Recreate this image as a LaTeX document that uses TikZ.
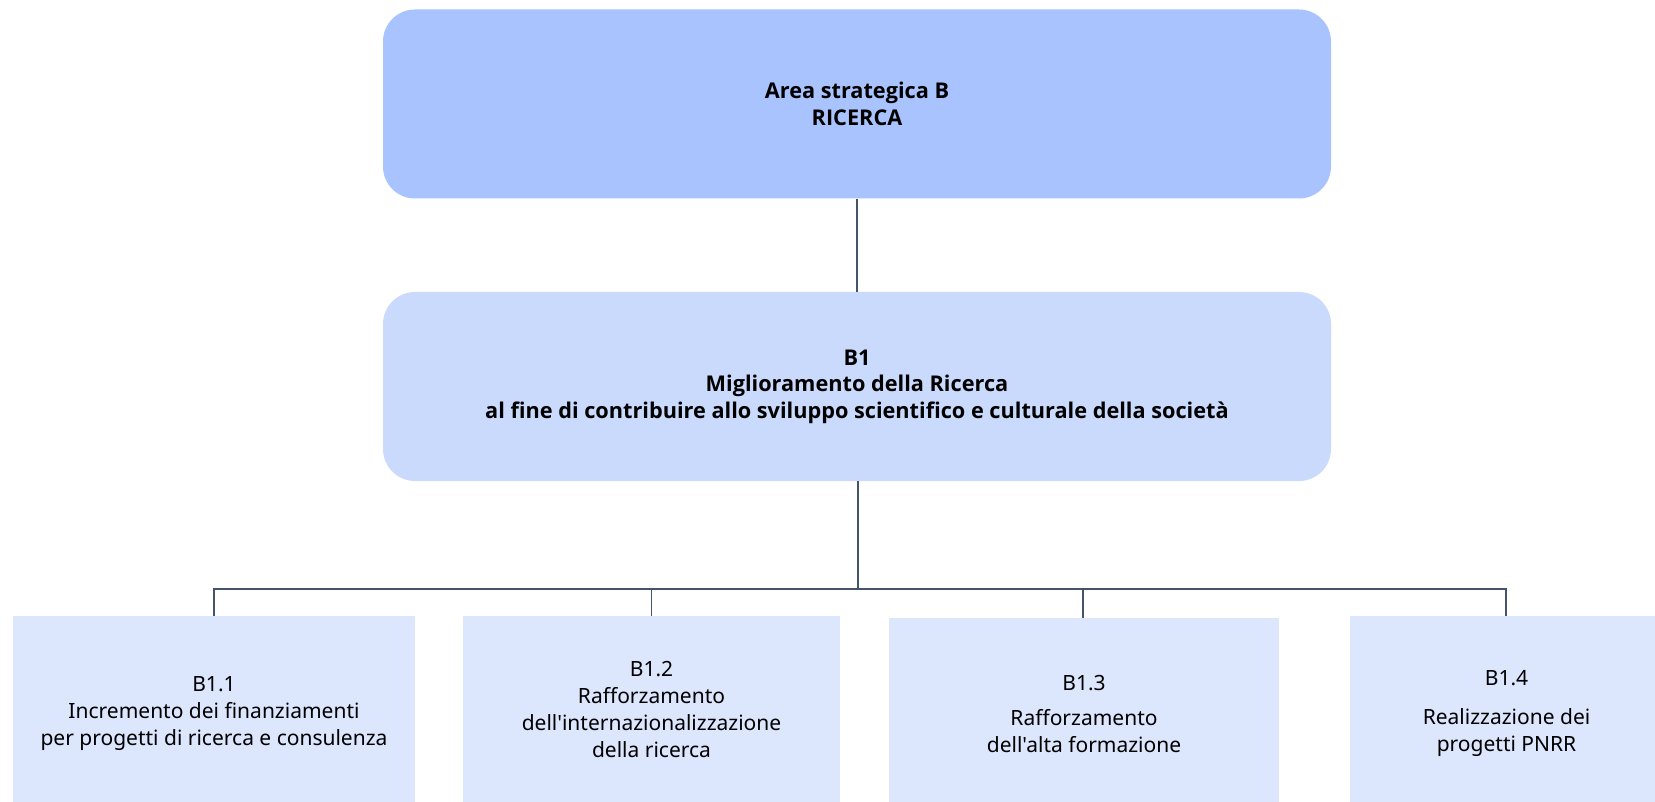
\documentclass[tikz,border=0pt]{standalone}
\usepackage{fontspec}
\newfontfamily\nsans{Noto Sans}
\newfontfamily\osans{Open Sans}
\definecolor{topfill}{HTML}{A8C3FE}
\definecolor{midfill}{HTML}{C9DAFD}
\definecolor{botfill}{HTML}{DCE6FD}
\definecolor{linec}{HTML}{44546A}
\tikzset{
  bigbox/.style={rectangle, rounded corners=32pt, draw=none, inner sep=0pt, align=center,
    minimum width=948pt, minimum height=189pt,
    font=\osans\bfseries\fontsize{21.7}{26.5}\selectfont},
  subbox/.style={rectangle, draw=none, fill=botfill, inner sep=0pt, align=center,
    font=\nsans\fontsize{21}{27}\selectfont},
  conn/.style={draw=linec, line width=1.3pt}
}
\begin{document}
\begin{tikzpicture}[x=1pt,y=-1pt]
\useasboundingbox (0,0) rectangle (1655,802);
\node[bigbox, fill=topfill] (top) at (857,104) {Area strategica B\\RICERCA};
\node[bigbox, fill=midfill] (mid) at (857,386.5) {\raisebox{-2pt}{\begin{tabular}{@{}c@{}}B1\\Miglioramento della Ricerca\\al fine di contribuire allo sviluppo scientifico e culturale della società\end{tabular}}};
\node[subbox, minimum width=402pt, minimum height=196pt] (b11) at (214,714) {B1.1\\Incremento dei finanziamenti\\per progetti di ricerca e consulenza};
\node[subbox, minimum width=377pt, minimum height=186pt] (b12) at (651.5,709) {B1.2\\Rafforzamento\\dell'internazionalizzazione\\della ricerca};
\node[subbox, minimum width=390pt, minimum height=192pt] (b13) at (1084,714) {B1.3\\[8pt]Rafforzamento\\dell'alta formazione};
\node[subbox, minimum width=305pt, minimum height=194pt] (b14) at (1502.5,713) {\hspace*{8pt}B1.4\\[12pt]\hspace*{8pt}Realizzazione dei\\\hspace*{8pt}progetti PNRR};
\coordinate (bus) at (858,589);
\draw[conn] (top) -- (mid);
\draw[conn] (mid.south -| bus) -- (bus);
\draw[conn] (bus) -| (b11.north);
\draw[conn] (bus) -| (b12.north);
\draw[conn] (bus) -| (b13.north -| 1083,0);
\draw[conn] (bus) -| ([xshift=3.5pt]b14.north);
\end{tikzpicture}
\end{document}
